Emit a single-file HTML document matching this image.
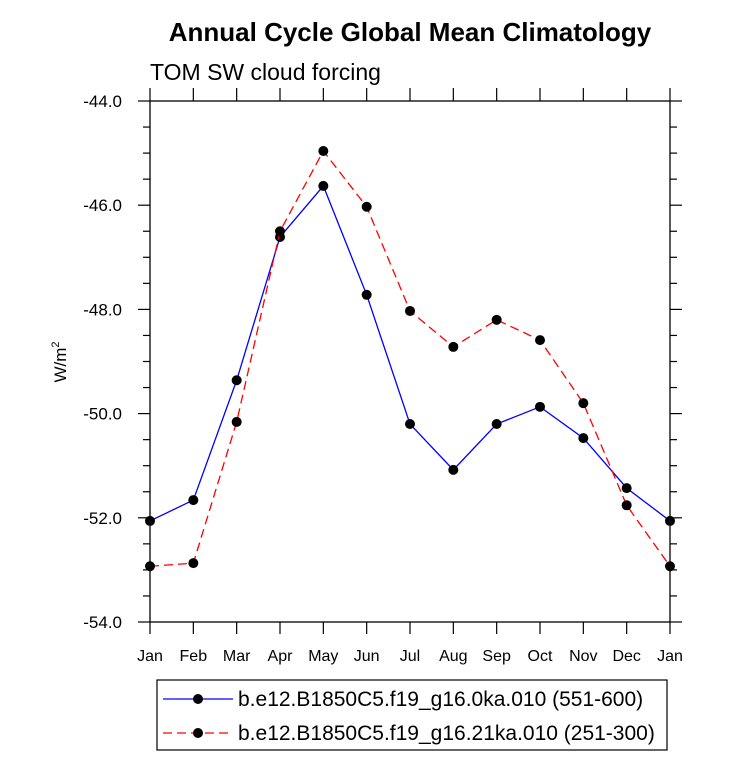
<!DOCTYPE html>
<html><head><meta charset="utf-8"><style>
html,body{margin:0;padding:0;background:#fff}
svg{display:block;font-family:"Liberation Sans",sans-serif}
</style></head><body>
<svg width="733" height="757" viewBox="0 0 733 757">
<text x="410" y="41" text-anchor="middle" font-size="26" font-weight="bold">Annual Cycle Global Mean Climatology</text>
<text x="150" y="80" font-size="23">TOM SW cloud forcing</text>
<text transform="translate(66,362) rotate(-90)" text-anchor="middle" font-size="17">W/m<tspan font-size="11" dy="-7">2</tspan></text>
<g id="axes"></g>
<g id="series"></g>
<g>
<rect x="157" y="680" width="510" height="70" fill="none" stroke="#000" stroke-width="1.2"/>
<g>
<line x1="163" y1="699" x2="233" y2="699" stroke="#0000ff" stroke-width="1.3"/>
<circle cx="198" cy="699" r="5" fill="#000"/>
<text x="238" y="706" font-size="21">b.e12.B1850C5.f19_g16.0ka.010 (551-600)</text>
</g>
<g>
<line x1="163" y1="733" x2="233" y2="733" stroke="#ff0000" stroke-width="1.3" stroke-dasharray="9,5"/>
<circle cx="198" cy="733" r="5" fill="#000"/>
<text x="238" y="740" font-size="21">b.e12.B1850C5.f19_g16.21ka.010 (251-300)</text>
</g>
</g>
</svg>
<script>
const months = ["Jan","Feb","Mar","Apr","May","Jun","Jul","Aug","Sep","Oct","Nov","Dec","Jan"];
const blueValues = [-52.06,-51.66,-49.36,-46.61,-45.63,-47.72,-50.2,-51.08,-50.2,-49.87,-50.47,-51.43,-52.06];
const redValues = [-52.93,-52.87,-50.16,-46.5,-44.96,-46.03,-48.03,-48.72,-48.2,-48.59,-49.8,-51.76,-52.93];
const yTicks = [-44,-46,-48,-50,-52,-54];
const yTickLabels = ["-44.0","-46.0","-48.0","-50.0","-52.0","-54.0"];

const L=150,R=670,T=101,B=622,yMin=-54,yMax=-44;
const xs=i=>L+(R-L)*i/(months.length-1);
const ys=v=>B-(v-yMin)/(yMax-yMin)*(B-T);
const NS="http://www.w3.org/2000/svg";
function mk(tag,attrs,parent){const e=document.createElementNS(NS,tag);for(const k in attrs)e.setAttribute(k,attrs[k]);parent.appendChild(e);return e;}
const ax=document.getElementById('axes');
const frame=mk('rect',{x:L,y:T,width:R-L,height:B-T,fill:'none',stroke:'#000','stroke-width':1.3},ax);


for(let v=yMin;v<=yMax+1e-9;v+=0.5){
  const y=ys(v);const major=Math.abs(v/2-Math.round(v/2))<1e-6;const len=major?12:7;
  mk('line',{x1:L-len,y1:y,x2:L,y2:y,stroke:'#000','stroke-width':1.2},ax);
  mk('line',{x1:R,y1:y,x2:R+len,y2:y,stroke:'#000','stroke-width':1.2},ax);
}
yTicks.forEach((v,i)=>{
  const t=mk('text',{x:L-28,y:ys(v)+6,'text-anchor':'end','font-size':17},ax);
  t.textContent=yTickLabels[i];
  
  
});
months.forEach((m,i)=>{
  const x=xs(i);
  mk('line',{x1:x,y1:B,x2:x,y2:B+12,stroke:'#000','stroke-width':1.2},ax);
  mk('line',{x1:x,y1:T-13,x2:x,y2:T,stroke:'#000','stroke-width':1.2},ax);
  const t=mk('text',{x:x,y:B+39,'text-anchor':'middle','font-size':16},ax);
  t.textContent=m;
  
  
});
const sg=document.getElementById('series');
function series(vals,color,dash,name){
  const g=mk('g',{},sg);
  
  
  const p=mk('polyline',{points:vals.map((v,i)=>xs(i)+','+ys(v)).join(' '),fill:'none',stroke:color,'stroke-width':1.3},g);
  if(dash)p.setAttribute('stroke-dasharray',dash);
  vals.forEach((v,i)=>{
    const c=mk('circle',{cx:xs(i),cy:ys(v),r:5,fill:'#000'},g);
    
    
  });
}
series(blueValues,'#0000ff',null,'series-0ka');
series(redValues,'#ff0000','9,5','series-21ka');
</script>
</body></html>
